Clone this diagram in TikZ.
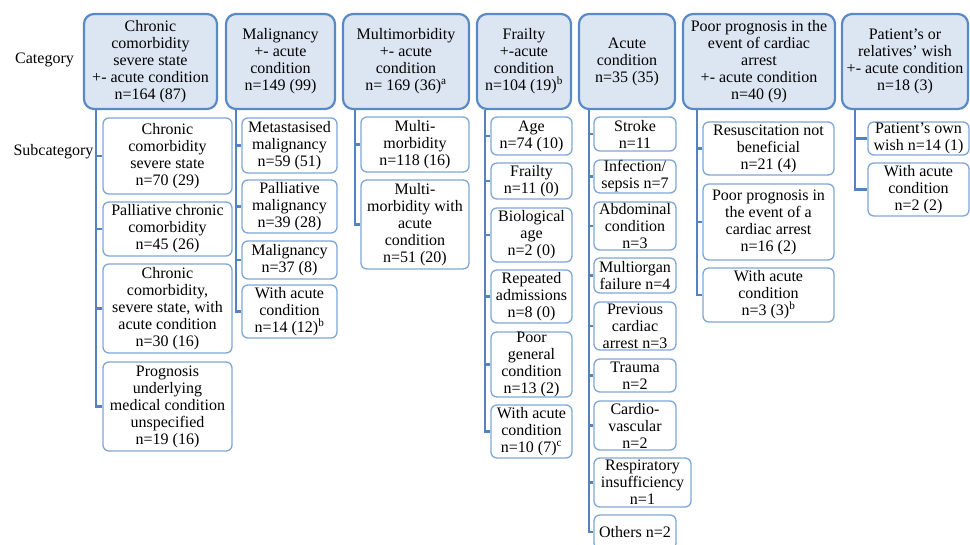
\documentclass[tikz,border=0pt]{standalone}
\usepackage{fontspec}
\setmainfont{Liberation Serif}
\newfontfamily\boxface{Liberation Serif}
\definecolor{catfill}{HTML}{DCE6F2}
\definecolor{catline}{HTML}{5A8AC6}
\definecolor{subline}{HTML}{7EA6D8}
\definecolor{trunkcol}{HTML}{5583C0}
\tikzset{
  base/.style={align=center, inner sep=0pt, font=\boxface\fontsize{16}{17}\selectfont, text=black},
  cat/.style={base, draw=catline, fill=catfill, line width=2.2pt, rounded corners=10pt, minimum height=95pt},
  sub/.style={base, draw=subline, fill=white, line width=1.3pt, rounded corners=6pt},
  trunk/.style={draw=trunkcol, line width=2.8pt},
  lbl/.style={base}
}
\begin{document}
\begin{tikzpicture}[x=1pt,y=1pt]
\useasboundingbox (0,0) rectangle (970,-544);

% row labels
\node[lbl] (lcat) at (44.5,-60) {Category};
\node[lbl] (lsub) at (53.5,-152) {Subcategory};

% categories
\node[cat, minimum width=133pt] (c1) at (150.5,-61.5) {Chronic\\comorbidity\\severe state\\+- acute condition\\n=164 (87)};
\node[cat, minimum width=109pt] (c2) at (280.5,-61.5) {Malignancy\\+- acute\\condition\\n=149 (99)};
\node[cat, minimum width=126pt] (c3) at (406,-61.5) {Multimorbidity\\+- acute\\condition\\n= 169 (36)\textsuperscript{a}};
\node[cat, minimum width=94pt] (c4) at (524,-61.5) {Frailty\\+-acute\\condition\\n=104 (19)\textsuperscript{b}};
\node[cat, minimum width=96pt] (c5) at (627,-61.5) {Acute\\condition\\n=35 (35)};
\node[cat, minimum width=152pt] (c6) at (759,-61.5) {Poor prognosis in the\\event of cardiac\\arrest\\+- acute condition\\n=40 (9)};
\node[cat, minimum width=126pt] (c7) at (905,-61.5) {Patient’s or\\relatives’ wish\\+- acute condition\\n=18 (3)};

% chronic comorbidity
\node[sub, minimum width=129pt, minimum height=76pt] (s11) at (167.5,-156) {Chronic\\comorbidity\\severe state\\n=70 (29)};
\node[sub, minimum width=129pt, minimum height=54pt] (s12) at (167.5,-229) {Palliative chronic\\comorbidity\\n=45 (26)};
\node[sub, minimum width=129pt, minimum height=89pt] (s13) at (167.5,-308.5) {Chronic\\comorbidity,\\severe state, with\\acute condition\\n=30 (16)};
\node[sub, minimum width=129pt, minimum height=89pt] (s14) at (167.5,-406.5) {Prognosis\\underlying\\medical condition\\unspecified\\n=19 (16)};

% malignancy
\node[sub, minimum width=95pt, minimum height=55pt] (s21) at (289.5,-145.5) {Metastasised\\malignancy\\n=59 (51)};
\node[sub, minimum width=95pt, minimum height=53pt] (s22) at (289.5,-206.5) {Palliative\\malignancy\\n=39 (28)};
\node[sub, minimum width=95pt, minimum height=38pt] (s23) at (289.5,-260) {Malignancy\\n=37 (8)};
\node[sub, minimum width=95pt, minimum height=53pt] (s24) at (289.5,-311.5) {With acute\\condition\\n=14 (12)\textsuperscript{b}};

% multimorbidity
\node[sub, minimum width=108pt, minimum height=55pt] (s31) at (415,-144.5) {Multi-\\morbidity\\n=118 (16)};
\node[sub, minimum width=108pt, minimum height=89pt] (s32) at (415,-224.5) {Multi-\\morbidity with\\acute\\condition\\n=51 (20)};

% frailty
\node[sub, minimum width=81pt, minimum height=38pt] (s41) at (531.5,-136) {Age\\n=74 (10)};
\node[sub, minimum width=81pt, minimum height=36pt] (s42) at (531.5,-181) {Frailty\\n=11 (0)};
\node[sub, minimum width=81pt, minimum height=54pt] (s43) at (531.5,-235) {Biological\\age\\n=2 (0)};
\node[sub, minimum width=81pt, minimum height=53pt] (s44) at (531.5,-296.5) {Repeated\\admissions\\n=8 (0)};
\node[sub, minimum width=81pt, minimum height=65pt] (s45) at (531.5,-364.5) {Poor\\general\\condition\\n=13 (2)};
\node[sub, minimum width=81pt, minimum height=53pt] (s46) at (531.5,-431.5) {With acute\\condition\\n=10 (7)\textsuperscript{c}};

% acute condition
\node[sub, minimum width=82pt, minimum height=34pt] (s51) at (635,-134) {Stroke\\n=11};
\node[sub, minimum width=82pt, minimum height=33pt] (s52) at (635,-176.5) {Infection/\\sepsis n=7};
\node[sub, minimum width=82pt, minimum height=48pt] (s53) at (635,-226) {Abdominal\\condition\\n=3};
\node[sub, minimum width=82pt, minimum height=35pt] (s54) at (635,-275.5) {Multiorgan\\failure n=4};
\node[sub, minimum width=82pt, minimum height=48pt] (s55) at (635,-326) {Previous\\cardiac\\arrest n=3};
\node[sub, minimum width=82pt, minimum height=33pt] (s56) at (635,-375.5) {Trauma\\n=2};
\node[sub, minimum width=82pt, minimum height=49pt] (s57) at (635,-425.5) {Cardio-\\vascular\\n=2};
\node[sub, minimum width=97pt, minimum height=49pt] (s58) at (642.5,-482.5) {Respiratory\\insufficiency\\n=1};
\node[sub, minimum width=82pt, minimum height=34pt] (s59) at (635,-532) {Others n=2};

% poor prognosis
\node[sub, minimum width=131pt, minimum height=53pt] (s61) at (768.5,-148.5) {Resuscitation not\\beneficial\\n=21 (4)};
\node[sub, minimum width=131pt, minimum height=76pt] (s62) at (768.5,-222) {Poor prognosis in\\the event of a\\cardiac arrest\\n=16 (2)};
\node[sub, minimum width=131pt, minimum height=54pt] (s63) at (768.5,-295) {With acute\\condition\\n=3 (3)\textsuperscript{b}};

% patient's or relatives' wish
\node[sub, minimum width=101pt, minimum height=33pt] (s71) at (918.5,-138.5) {Patient’s own\\wish n=14 (1)};
\node[sub, minimum width=101pt, minimum height=53pt] (s72) at (918.5,-189.5) {With acute\\condition\\n=2 (2)};

% trunk lines from each category down to its subcategories
\coordinate (t1) at ([xshift=13pt]c1.south west);
\coordinate (t2) at ([xshift=11pt]c2.south west);
\coordinate (t3) at ([xshift=13pt]c3.south west);
\coordinate (t4) at ([xshift=9pt]c4.south west);
\coordinate (t5) at ([xshift=11pt]c5.south west);
\coordinate (t6) at ([xshift=15pt]c6.south west);
\coordinate (t7) at ([xshift=14pt]c7.south west);

\draw[trunk] (t1) |- (s14.west);
\foreach \s in {s11,s12,s13} \draw[trunk] (t1 |- \s.west) -- (\s.west);
\draw[trunk] (t2) |- (s24.west);
\foreach \s in {s21,s22,s23} \draw[trunk] (t2 |- \s.west) -- (\s.west);
\draw[trunk] (t3) |- (s32.west);
\foreach \s in {s31} \draw[trunk] (t3 |- \s.west) -- (\s.west);
\draw[trunk] (t4) |- (s46.west);
\foreach \s in {s41,s42,s43,s44,s45} \draw[trunk] (t4 |- \s.west) -- (\s.west);
\draw[trunk] (t5) |- (s59.west);
\foreach \s in {s51,s52,s53,s54,s55,s56,s57,s58} \draw[trunk] (t5 |- \s.west) -- (\s.west);
\draw[trunk] (t6) |- (s63.west);
\foreach \s in {s61,s62} \draw[trunk] (t6 |- \s.west) -- (\s.west);
\draw[trunk] (t7) |- (s72.west);
\foreach \s in {s71} \draw[trunk] (t7 |- \s.west) -- (\s.west);
\end{tikzpicture}
\end{document}
